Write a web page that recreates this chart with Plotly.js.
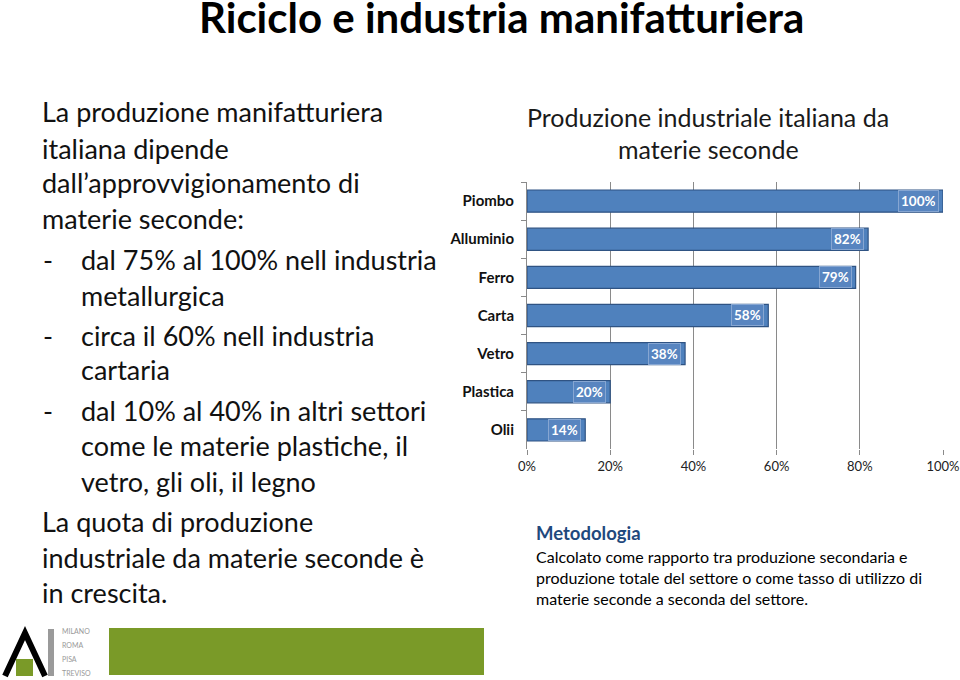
<!DOCTYPE html>
<html>
<head>
<meta charset="utf-8">
<script src="https://cdn.plot.ly/plotly-3.0.1.min.js"></script>
<style>html,body{margin:0;padding:0;background:#fff;}#chart{width:960px;height:680px;}</style>
</head>
<body>
<div id="chart"></div>
<script>
var categories = ['Piombo', 'Alluminio', 'Ferro', 'Carta', 'Vetro', 'Plastica', 'Olii'];
var values = [100, 82, 79, 58, 38, 20, 14];
var tickValues = [0, 20, 40, 60, 80, 100];
var tickLabels = ['0%', '20%', '40%', '60%', '80%', '100%'];

var slideTitle = 'Riciclo e industria manifatturiera';
var chartTitle = ['Produzione industriale italiana da', 'materie seconde'];
var leftLines = [
  {dash: false, indent: false, text: 'La produzione manifatturiera'},
  {dash: false, indent: false, text: 'italiana dipende'},
  {dash: false, indent: false, text: 'dall\u2019approvvigionamento di'},
  {dash: false, indent: false, text: 'materie seconde:'},
  {dash: true, indent: true, text: 'dal 75% al 100% nell industria'},
  {dash: false, indent: true, text: 'metallurgica'},
  {dash: true, indent: true, text: 'circa il 60% nell industria'},
  {dash: false, indent: true, text: 'cartaria'},
  {dash: true, indent: true, text: 'dal 10% al 40% in altri settori'},
  {dash: false, indent: true, text: 'come le materie plastiche, il'},
  {dash: false, indent: true, text: 'vetro, gli oli, il legno'},
  {dash: false, indent: false, text: 'La quota di produzione'},
  {dash: false, indent: false, text: 'industriale da materie seconde \u00e8'},
  {dash: false, indent: false, text: 'in crescita.'}
];
var leftY = [112, 148, 183, 219, 259, 295, 335, 370, 410, 445, 481, 521, 557, 592];
var methodTitle = 'Metodologia';
var methodLines = [
  'Calcolato come rapporto tra produzione secondaria e',
  'produzione totale del settore o come tasso di utilizzo di',
  'materie seconde a seconda del settore.'
];
var logoCities = ['MILANO', 'ROMA', 'PISA', 'TREVISO'];

var W = 960, H = 680;
function px(x) { return x / W; }
function py(y) { return 1 - y / H; }
var FONT = 'Lato, "Open Sans", sans-serif';

var annotations = [];
annotations.push({xref: 'paper', yref: 'paper', x: px(501), y: py(17), xanchor: 'center', yanchor: 'middle',
  text: '<b>' + slideTitle + '</b>', showarrow: false, font: {family: FONT, size: 42, color: '#000'}});
chartTitle.forEach(function (t, i) {
  annotations.push({xref: 'paper', yref: 'paper', x: px(708), y: py(117 + i * 32), xanchor: 'center', yanchor: 'middle',
    text: t, showarrow: false, font: {family: FONT, size: 25, color: '#1a1a1a'}});
});
leftLines.forEach(function (l, i) {
  annotations.push({xref: 'paper', yref: 'paper', x: px(l.indent ? 79 : 40), y: py(leftY[i]), xanchor: 'left', yanchor: 'middle',
    text: l.text, showarrow: false, font: {family: FONT, size: 27, color: '#111'}});
  if (l.dash) {
    annotations.push({xref: 'paper', yref: 'paper', x: px(41), y: py(leftY[i]), xanchor: 'left', yanchor: 'middle',
      text: '-', showarrow: false, font: {family: FONT, size: 27, color: '#111'}});
  }
});
annotations.push({xref: 'paper', yref: 'paper', x: px(534), y: py(533), xanchor: 'left', yanchor: 'middle',
  text: '<b>' + methodTitle + '</b>', showarrow: false, font: {family: FONT, size: 18.5, color: '#1F497D'}});
methodLines.forEach(function (t, i) {
  annotations.push({xref: 'paper', yref: 'paper', x: px(534), y: py(556 + i * 21), xanchor: 'left', yanchor: 'middle',
    text: t, showarrow: false, font: {family: FONT, size: 16, color: '#000'}});
});
logoCities.forEach(function (t, i) {
  annotations.push({xref: 'paper', yref: 'paper', x: px(60), y: py(631 + i * 14), xanchor: 'left', yanchor: 'middle',
    text: t, showarrow: false, font: {family: FONT, size: 7, color: '#999'}});
});
// data labels placed through the data scale
values.forEach(function (v, i) {
  annotations.push({xref: 'x', yref: 'y', x: v, y: categories[i], xanchor: 'right', yanchor: 'middle',
    xshift: -4, text: '<b>' + v + '%</b>', showarrow: false,
    bgcolor: '#5885C0', bordercolor: '#86A6D2', borderwidth: 1, borderpad: 2, height: 16,
    font: {family: FONT, size: 13.5, color: '#fff'}});
});

var shapes = [
  {type: 'rect', xref: 'paper', yref: 'paper', x0: px(109), x1: px(484), y0: py(675), y1: py(628),
    fillcolor: '#7A9A28', line: {width: 0}},
  {type: 'path', xref: 'paper', yref: 'paper',
    path: 'M ' + px(5) + ' ' + py(676) + ' L ' + px(25) + ' ' + py(633) + ' L ' + px(45) + ' ' + py(676),
    line: {color: '#000', width: 6}},
  {type: 'rect', xref: 'paper', yref: 'paper', x0: px(16), x1: px(33), y0: py(676), y1: py(659),
    fillcolor: '#7A9A28', line: {width: 0}},
  {type: 'rect', xref: 'paper', yref: 'paper', x0: px(48), x1: px(54), y0: py(676), y1: py(629),
    fillcolor: '#9a9a9a', line: {width: 0}}
];

var trace = {
  type: 'bar', orientation: 'h',
  x: values, y: categories,
  marker: {color: '#4F81BD', line: {color: '#2F5383', width: 1.2}},
  hoverinfo: 'skip', cliponaxis: false
};

var layout = {
  width: W, height: H,
  margin: {l: 0, r: 0, t: 0, b: 0},
  paper_bgcolor: '#fff', plot_bgcolor: '#fff',
  showlegend: false,
  bargap: 0.42,
  font: {family: FONT},
  xaxis: {
    domain: [px(527), px(943)], anchor: 'y',
    range: [0, 100], tickvals: tickValues, ticktext: tickLabels,
    showgrid: true, gridcolor: '#8a8a8a', gridwidth: 1,
    zeroline: false, showline: false,
    ticks: 'outside', ticklen: 5, tickcolor: '#8a8a8a',
    tickfont: {family: FONT, size: 13, color: '#222'}
  },
  yaxis: {
    domain: [py(449), py(182)], anchor: 'x',
    autorange: 'reversed', type: 'category',
    showgrid: false, zeroline: false,
    showline: true, linecolor: '#8a8a8a', linewidth: 1,
    ticks: 'outside', ticklen: 5, tickcolor: '#8a8a8a', tickson: 'boundaries',
    ticklabelstandoff: 9,
    tickfont: {family: FONT, size: 15, color: '#111', weight: 'bold'}
  },
  annotations: annotations,
  shapes: shapes
};

Plotly.newPlot('chart', [trace], layout, {staticPlot: true, displayModeBar: false});
</script>
</body>
</html>
